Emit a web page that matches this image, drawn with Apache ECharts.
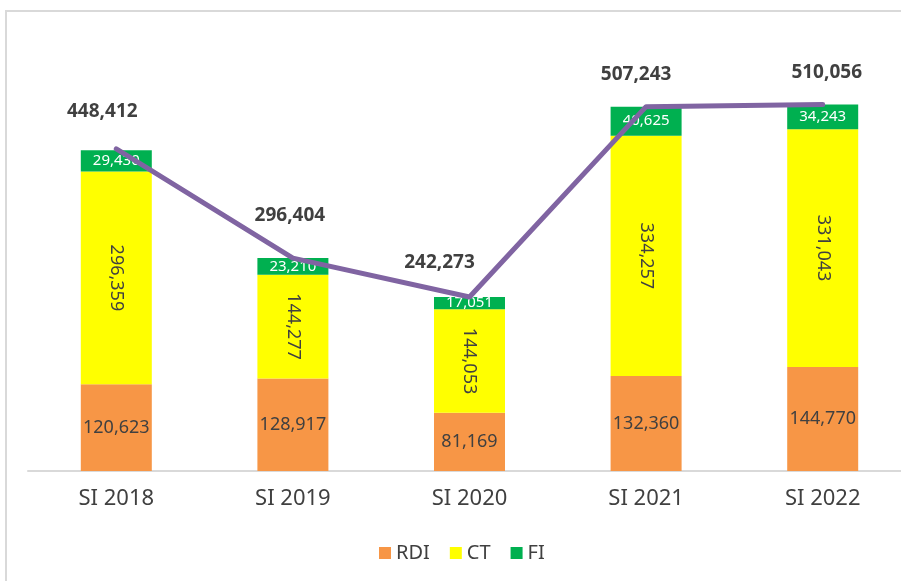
<!DOCTYPE html>
<html>
<head>
<meta charset="utf-8">
<script src="https://cdn.jsdelivr.net/npm/echarts@6/dist/echarts.min.js"></script>
<style>
html, body { margin: 0; padding: 0; background: #fff; overflow: hidden; }
#main { width: 911px; height: 581px; }
</style>
</head>
<body>
<div id="main"></div>
<script>
// data
var years = ["SI 2018", "SI 2019", "SI 2020", "SI 2021", "SI 2022"];
var rdi = [120623, 128917, 81169, 132360, 144770];
var ct = [296359, 144277, 144053, 334257, 331043];
var fi = [29430, 23210, 17051, 40625, 34243];
var totals = [448412, 296404, 242273, 507243, 510056];

// where each total label sits relative to its point
var totalLabelOffsets = [[-14, -37], [-3, -42], [-30, -34], [-10, -32], [4, -32]];

var fmt = function (p) {
    return p.value.toLocaleString("en-US");
};

// the plot runs past the right edge of the 901px window, like the original crop
var myChart = echarts.init(document.getElementById("main"));
var option = {
    animation: false,
    backgroundColor: "#fff",
    textStyle: { fontFamily: "Noto Sans" },
    graphic: [{
        type: "rect",
        shape: { x: 6, y: 11, width: 1000, height: 1000 },
        style: { fill: "none", stroke: "#d9d9d9", lineWidth: 2 },
        silent: true
    }],
    legend: {
        data: ["RDI", "CT", "FI"],
        left: 374,
        top: 538,
        itemWidth: 12,
        itemHeight: 12,
        itemGap: 20,
        icon: "rect",
        textStyle: { fontSize: 20, color: "#404040", fontFamily: "Noto Sans" }
    },
    grid: {
        left: 28,
        right: 0,
        top: 40,
        height: 431
    },
    xAxis: {
        type: "category",
        data: years,
        axisLine: { lineStyle: { color: "#d9d9d9", width: 2 } },
        axisTick: { show: false },
        axisLabel: { fontSize: 22, color: "#404040", margin: 17, fontFamily: "Noto Sans" }
    },
    yAxis: {
        type: "value",
        min: 0,
        max: 600000,
        show: false,
        splitLine: { show: false }
    },
    series: [{
            name: "RDI",
            type: "bar",
            stack: "total",
            barWidth: 71,
            itemStyle: { color: "#f79646" },
            label: { show: true, position: "inside", color: "#404040", fontSize: 18, formatter: fmt },
            data: rdi
        },
        {
            name: "CT",
            type: "bar",
            stack: "total",
            barWidth: 71,
            itemStyle: { color: "#ffff00" },
            label: { show: true, position: "inside", rotate: -90, color: "#404040", fontSize: 18, formatter: fmt },
            data: ct
        },
        {
            name: "FI",
            type: "bar",
            stack: "total",
            barWidth: 71,
            itemStyle: { color: "#00b050" },
            label: { show: true, position: "inside", color: "#fff", fontSize: 15, formatter: fmt },
            data: fi
        },
        {
            name: "Total",
            type: "line",
            z: 5,
            symbol: "circle",
            symbolSize: 1,
            itemStyle: { color: "rgba(0,0,0,0)" },
            lineStyle: { color: "#8064a2", width: 5, cap: "round", join: "round" },
            label: {
                show: true,
                position: "inside",
                fontSize: 19,
                fontWeight: "bold",
                color: "#404040",
                formatter: fmt
            },
            data: totals.map(function (v, i) {
                return {
                    value: v,
                    label: { offset: totalLabelOffsets[i] }
                };
            })
        }
    ]
};
myChart.setOption(option);
</script>
</body>
</html>
